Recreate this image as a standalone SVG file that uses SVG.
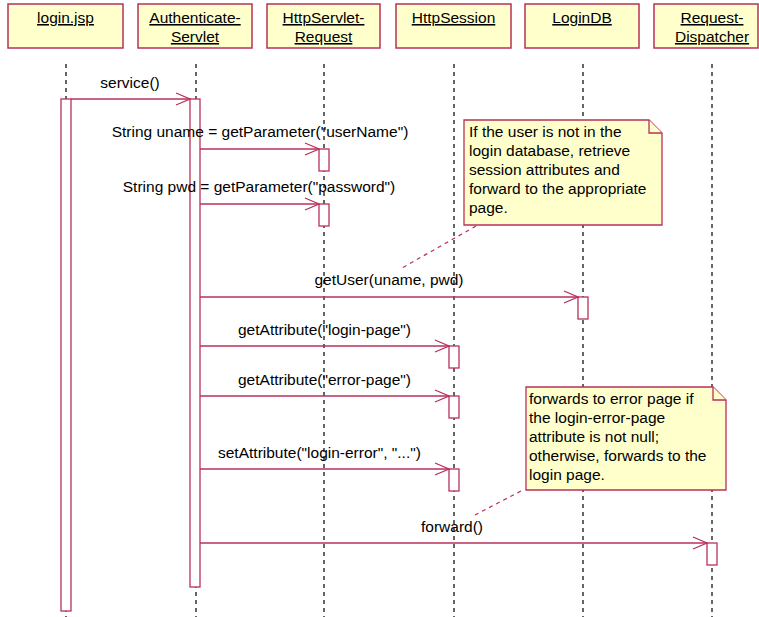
<svg xmlns="http://www.w3.org/2000/svg" width="759" height="617" viewBox="0 0 759 617">
<defs>
<style>
text{font-family:"Liberation Sans",Arial,sans-serif;font-size:15.5px;fill:#000}
.hdr{fill:#ffffcc;stroke:#b8305a;stroke-width:1.5}
.hd{text-anchor:middle;text-decoration:underline}
.life{stroke:#000;stroke-width:1.2;stroke-dasharray:4,4;fill:none}
.act{fill:#fff;stroke:#b8305a;stroke-width:1.3}
.msg{stroke:#b8305a;stroke-width:1.3;fill:none}
.ah{stroke:#b8305a;stroke-width:1.3;fill:none}
.note{fill:#ffffcc;stroke:#b8305a;stroke-width:1.3}
.nl{stroke:#b8305a;stroke-width:1.2;stroke-dasharray:4,4;fill:none}
.c{text-anchor:middle}
</style>
</defs>
<rect width="759" height="617" fill="#fff"/>

<g id="lifelines">
<line class="life" x1="66" y1="64" x2="66" y2="617"/>
<line class="life" x1="196" y1="64" x2="196" y2="617"/>
<line class="life" x1="324" y1="64" x2="324" y2="617"/>
<line class="life" x1="454" y1="64" x2="454" y2="617"/>
<line class="life" x1="583" y1="64" x2="583" y2="617"/>
<line class="life" x1="712" y1="64" x2="712" y2="617"/>
</g>

<g id="loginjsp">
<rect class="hdr" x="8" y="4" width="115" height="44"/>
<text class="hd" x="65.5" y="23">login.jsp</text>
<rect class="act" x="61" y="99" width="10" height="512"/>
</g>
<g id="authenticateservlet">
<rect class="hdr" x="138" y="4" width="114" height="44"/>
<text class="hd" x="195" y="23">Authenticate-</text>
<text class="hd" x="195" y="42">Servlet</text>
<rect class="act" x="190" y="99" width="10" height="488"/>
</g>
<g id="httpservletrequest">
<rect class="hdr" x="267" y="4" width="113" height="44"/>
<text class="hd" x="323.5" y="23">HttpServlet-</text>
<text class="hd" x="323.5" y="42">Request</text>
<rect class="act" x="319" y="149" width="10" height="22"/>
<rect class="act" x="319" y="204" width="10" height="22"/>
</g>
<g id="httpsession">
<rect class="hdr" x="396" y="4" width="115" height="44"/>
<text class="hd" x="453.5" y="23">HttpSession</text>
<rect class="act" x="449" y="346" width="10" height="22"/>
<rect class="act" x="449" y="396" width="10" height="22"/>
<rect class="act" x="449" y="469" width="10" height="22"/>
</g>
<g id="logindb">
<rect class="hdr" x="525" y="4" width="114" height="44"/>
<text class="hd" x="582" y="23">LoginDB</text>
<rect class="act" x="578" y="297" width="10" height="22"/>
</g>
<g id="requestdispatcher">
<rect class="hdr" x="654" y="4" width="104" height="44"/>
<text class="hd" x="712" y="23">Request-</text>
<text class="hd" x="712" y="42">Dispatcher</text>
<rect class="act" x="707" y="543" width="10" height="22"/>
</g>

<g id="connectors">
<line class="msg" x1="71" y1="99" x2="190" y2="99"/>
<path class="ah" d="M176,93 L190,99 L176,105"/>
<text class="c" x="130" y="88">service()</text>

<line class="msg" x1="200" y1="149" x2="319" y2="149"/>
<path class="ah" d="M305,143 L319,149 L305,155"/>
<text class="c" x="260" y="137">String uname = getParameter("userName")</text>

<line class="msg" x1="200" y1="204" x2="319" y2="204"/>
<path class="ah" d="M305,198 L319,204 L305,210"/>
<text class="c" x="259" y="192">String pwd = getParameter("password")</text>

<line class="msg" x1="200" y1="297" x2="578" y2="297"/>
<path class="ah" d="M564,291 L578,297 L564,303"/>
<text class="c" x="389" y="285">getUser(uname, pwd)</text>

<line class="msg" x1="200" y1="346" x2="449" y2="346"/>
<path class="ah" d="M435,340 L449,346 L435,352"/>
<text x="238" y="335">getAttribute("login-page")</text>

<line class="msg" x1="200" y1="396" x2="449" y2="396"/>
<path class="ah" d="M435,390 L449,396 L435,402"/>
<text x="238" y="385">getAttribute("error-page")</text>

<line class="msg" x1="200" y1="469" x2="449" y2="469"/>
<path class="ah" d="M435,463 L449,469 L435,475"/>
<text x="218" y="458">setAttribute("login-error", "...")</text>

<line class="msg" x1="200" y1="543" x2="707" y2="543"/>
<path class="ah" d="M693,537 L707,543 L693,549"/>
<text class="c" x="452" y="532">forward()</text>

<line class="nl" x1="476" y1="226" x2="402" y2="268"/>
<line class="nl" x1="521" y1="491" x2="473" y2="516"/>
</g>

<g id="note1">
<path class="note" d="M464,120 H649 L662,133 V225 H464 Z"/>
<path class="note" d="M649,120 V133 H662"/>
<text x="469" y="137">If the user is not in the</text>
<text x="469" y="156">login database, retrieve</text>
<text x="469" y="175">session attributes and</text>
<text x="469" y="194">forward to the appropriate</text>
<text x="469" y="213">page.</text>
</g>

<g id="note2">
<path class="note" d="M526,387 H713 L726,400 V490 H526 Z"/>
<path class="note" d="M713,387 V400 H726"/>
<text x="529" y="404">forwards to error page if</text>
<text x="529" y="423">the login-error-page</text>
<text x="529" y="442">attribute is not null;</text>
<text x="529" y="461">otherwise, forwards to the</text>
<text x="529" y="480">login page.</text>
</g>
</svg>
